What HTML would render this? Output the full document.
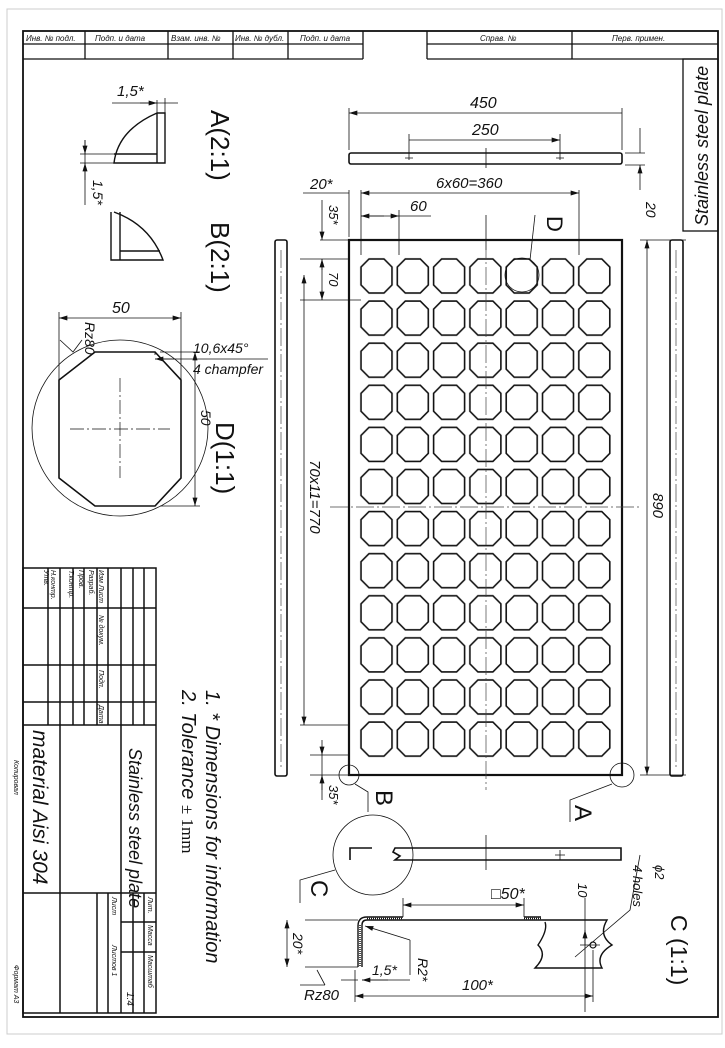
<!DOCTYPE html>
<html><head><meta charset="utf-8"><style>
html,body{margin:0;padding:0;background:#fff}
svg{display:block}
text{font-family:"Liberation Sans",sans-serif;font-style:italic;fill:#111}
</style></head><body>
<svg width="725" height="1048" viewBox="0 0 725 1048" xmlns="http://www.w3.org/2000/svg">
<defs>
<pattern id="oct" x="358.35" y="254.95" width="36.3" height="42.1" patternUnits="userSpaceOnUse">
<polygon points="10.65,4.05 25.65,4.05 33.65,12.05 33.65,30.05 25.65,38.05 10.65,38.05 2.65,30.05 2.65,12.05" fill="none" stroke="#111" stroke-width="1.6"/>
</pattern>
<marker id="ar" viewBox="0 0 10 6" refX="10" refY="3" markerWidth="9" markerHeight="5" orient="auto-start-reverse" markerUnits="userSpaceOnUse"><path d="M0,0 L10,3 L0,6z" fill="#111"/></marker>
</defs>
<rect x="7" y="9" width="715" height="1025" fill="none" stroke="#ccc" stroke-width="1"/>
<rect x="23" y="31" width="695" height="986" fill="none" stroke="#111" stroke-width="1.8"/>
<g stroke="#111" stroke-width="1.3" fill="none">
<path d="M23,44 H363 M23,59 H363 M363,31 V59 M85,31 V59 M168,31 V59 M233,31 V59 M288,31 V59"/>
<path d="M427,31 V59 M427,44 H718 M427,59 H718 M572,31 V59"/>
<rect x="683" y="59" width="35" height="172"/>
</g>
<g font-size="8">
<text x="26" y="41">Инв. № подл.</text><text x="95" y="41">Подп. и дата</text>
<text x="171" y="41">Взам. инв. №</text><text x="235" y="41">Инв. № дубл.</text>
<text x="300" y="41">Подп. и дата</text><text x="480" y="41">Справ. №</text><text x="612" y="41">Перв. примен.</text>
</g>
<text transform="translate(708,226) rotate(-90)" font-size="18">Stainless steel plate</text>

<g stroke="#111" fill="none">
<rect x="349" y="153" width="273" height="11" rx="2" stroke-width="1.6"/>
<path d="M349,150 V108 M622,150 V108 M409,160 V134 M560,160 V134" stroke-width="0.8"/>
<path d="M349,113 H622 M409,140 H560" stroke-width="0.8" marker-start="url(#ar)" marker-end="url(#ar)"/>
<path d="M486,148 V168 M405,158 H413 M556,158 H564" stroke-width="0.8"/>
<path d="M625,153 H645 M625,165 H645" stroke-width="0.8"/>
<path d="M640,128 V153 M640,190 V165" stroke-width="0.8" marker-end="url(#ar)"/>
</g>
<text x="470" y="108" font-size="16">450</text>
<text x="472" y="135" font-size="16">250</text>
<text transform="translate(646,202) rotate(90)" font-size="14">20</text>

<g stroke="#111" fill="none" stroke-width="0.8">
<path d="M349,237 V190 M361,255 V190 M399,255 V210 M579,255 V190 M486,215 V250"/>
<path d="M303,193 H349"/>
<path d="M361,193 H579" marker-start="url(#ar)" marker-end="url(#ar)"/>
<path d="M361,216 H384 M399,216 H431" />
<path d="M380,216 H361" marker-end="url(#ar)"/><path d="M380,216 H399" marker-end="url(#ar)"/>
<path d="M320,240 H349 M300,259 H349 M300,300 H361 M300,725 H349 M310,755 H349 M310,775 H349"/>
<path d="M322,200 V240" marker-end="url(#ar)"/>
<path d="M322,270 V259" marker-end="url(#ar)"/><path d="M322,290 V300" marker-end="url(#ar)"/>
<path d="M322,259 V300"/>
<path d="M304,275 V725" marker-start="url(#ar)" marker-end="url(#ar)"/>
<path d="M322,740 V755" marker-end="url(#ar)"/><path d="M322,790 V775" marker-end="url(#ar)"/>
<path d="M322,755 V800"/>
<path d="M686,240 H640 M686,775 H640"/>
<path d="M647,240 V775" marker-start="url(#ar)" marker-end="url(#ar)"/>
</g>
<text x="310" y="189" font-size="15">20*</text>
<text x="436" y="188" font-size="15">6x60=360</text>
<text x="410" y="211" font-size="15">60</text>
<text transform="translate(329,205) rotate(90)" font-size="13">35*</text>
<text transform="translate(329,272) rotate(90)" font-size="13">70</text>
<text transform="translate(310,460) rotate(90)" font-size="15">70x11=770</text>
<text transform="translate(653,493) rotate(90)" font-size="15">890</text>
<text transform="translate(329,785) rotate(90)" font-size="13">35*</text>

<rect x="275" y="240" width="12" height="536" rx="2" fill="none" stroke="#111" stroke-width="1.6"/>
<rect x="670" y="240" width="13" height="536" rx="2" fill="none" stroke="#111" stroke-width="1.6"/>
<rect x="349" y="240" width="273" height="535" fill="none" stroke="#111" stroke-width="2.2"/>
<rect x="358.35" y="254.95" width="254.1" height="505.2" fill="url(#oct)"/>
<g stroke="#444" stroke-width="0.7" stroke-dasharray="18,3,2,3" fill="none">
<path d="M486,215 V790 M330,507 H640 M281,250 V770 M676,250 V770"/>
</g>
<circle cx="522" cy="275" r="17" fill="none" stroke="#111" stroke-width="0.8"/>
<path d="M530,260 L535,215" stroke="#111" stroke-width="0.8"/>
<text transform="translate(547,216) rotate(90)" font-size="22" style="font-style:normal">D</text>
<circle cx="349" cy="775" r="10" fill="none" stroke="#111" stroke-width="0.8"/>
<circle cx="622" cy="775" r="12" fill="none" stroke="#111" stroke-width="0.8"/>
<path d="M355,784 L368,792 V812 M612,784 L570,800 V822" stroke="#111" stroke-width="0.8" fill="none"/>
<text transform="translate(376,790) rotate(90)" font-size="24" style="font-style:normal">B</text>
<text transform="translate(575,805) rotate(90)" font-size="24" style="font-style:normal">A</text>

<g stroke="#111" fill="none" stroke-width="1.6">
<path d="M372,848 H350 V860"/>
<path d="M395,848 H621 V860 H395 L400,856 L393,852 Z"/>
</g>
<circle cx="373" cy="855" r="40" fill="none" stroke="#111" stroke-width="0.8"/>
<path d="M486,835 V870 M555,855 H565 M560,850 V860" stroke="#111" stroke-width="0.8"/>
<path d="M335,870 L300,880 V903" stroke="#111" stroke-width="0.8" fill="none"/>
<text transform="translate(311,880) rotate(90)" font-size="24" style="font-style:normal">C</text>

<g stroke="#111" fill="none">
<path d="M362,967 V925 Q362,920 367,920 H607 Q598,935 612,945 Q595,955 602,968 H535 Q548,955 538,945 Q548,930 545,922" stroke-width="1.4"/>
<path d="M358,967 V926 Q358,917 367,917 H403 M524,917 H541" stroke-width="1.4"/>
<path d="M360,966 V925 M367,918.5 H403 M524,918.5 H541" stroke-width="1.5" stroke-dasharray="1,1"/>
<path d="M403,917 V898 M524,917 V898 M355,970 V1002 M593,950 V1002 M305,920 H358 M305,967 H358 M585,898 V1012 M580,945 H600 M580,968 H600" stroke-width="0.8"/>
<path d="M403,905 H524" stroke-width="0.8" marker-start="url(#ar)" marker-end="url(#ar)"/>
<path d="M355,996 H593" stroke-width="0.8" marker-start="url(#ar)" marker-end="url(#ar)"/>
<path d="M287,920 V967" stroke-width="0.8" marker-start="url(#ar)" marker-end="url(#ar)"/>
<path d="M341,980 H358 M388,980 H362" stroke-width="0.8" marker-end="url(#ar)"/>
<path d="M362,980 H410 M410,940 V975" stroke-width="0.8"/>
<path d="M410,940 L365,926" stroke-width="0.8" marker-end="url(#ar)"/>
<path d="M585,945 V930" stroke-width="0.8" marker-end="url(#ar)"/>
<circle cx="593" cy="945" r="3" stroke-width="1.2"/>
<path d="M575,957 L630,910 L640,855" stroke-width="0.8"/>
<path d="M317,970 L325,985 M325,985 L300,985" stroke-width="0.8"/>
</g>
<text x="491" y="899" font-size="16">□50*</text>
<text transform="translate(293,933) rotate(90)" font-size="14">20*</text>
<text transform="translate(418,958) rotate(90)" font-size="14">R2*</text>
<text x="372" y="975" font-size="14">1,5*</text>
<text x="462" y="990" font-size="15">100*</text>
<text x="304" y="1000" font-size="15">Rz80</text>
<text transform="translate(578,883) rotate(90)" font-size="13">10</text>
<text transform="translate(633,865) rotate(90)" font-size="13">4 holes</text>
<text transform="translate(655,865) rotate(90)" font-size="13">ϕ2</text>
<text transform="translate(671,915) rotate(90)" font-size="23" style="font-style:normal">C (1:1)</text>

<g stroke="#111" fill="none">
<path d="M157,113 H165 V163 H114 Q118,130 157,113 Z M157,113 V163 M114,154 H157" stroke-width="1.4"/>
<path d="M111,212 V260 H163 Q150,225 114,212 M120,212 V260 M120,251 H160" stroke-width="1.4"/>
<path d="M112,103 H178 M157,100 V113 M165,98 V113 M85,140 V205 M80,154 H114 M80,163 H114" stroke-width="0.8"/>
<path d="M140,103 H157" stroke-width="0.8" marker-end="url(#ar)"/>
<path d="M85,140 V154" stroke-width="0.8" marker-end="url(#ar)"/>
<path d="M85,180 V163" stroke-width="0.8" marker-end="url(#ar)"/>
<circle cx="120" cy="428" r="88" stroke-width="0.8"/>
<polygon points="95,352 155,352 181,380 181,478 155,506 95,506 59,478 59,380" stroke-width="1.6"/>
<path d="M59,380 V312 M181,380 V312 M155,352 V355 M155,359 H268 M160,352 H200 M160,506 H200" stroke-width="0.8"/>
<path d="M59,318 H181" stroke-width="0.8" marker-start="url(#ar)" marker-end="url(#ar)"/>
<path d="M195,352 V506" stroke-width="0.8" marker-start="url(#ar)" marker-end="url(#ar)"/>
<path d="M175,359 H155" stroke-width="0.8" marker-end="url(#ar)"/>
<path d="M60,340 L73,352 L82,340" stroke-width="0.8"/>
<path d="M120,378 V478 M70,429 H170" stroke-width="0.7" stroke-dasharray="14,3,2,3"/>
</g>
<text x="112" y="313" font-size="16">50</text>
<text transform="translate(85,322) rotate(90)" font-size="14">Rz80</text>
<text x="117" y="96" font-size="15">1,5*</text>
<text transform="translate(93,180) rotate(90)" font-size="14">1,5*</text>
<text x="193" y="353" font-size="14">10,6x45°</text>
<text x="193" y="374" font-size="14">4 champfer</text>
<text transform="translate(201,410) rotate(90)" font-size="14">50</text>
<text transform="translate(211,110) rotate(90)" font-size="26" style="font-style:normal">A(2:1)</text>
<text transform="translate(211,222) rotate(90)" font-size="26" style="font-style:normal">B(2:1)</text>
<text transform="translate(216,422) rotate(90)" font-size="26" style="font-style:normal">D(1:1)</text>

<text transform="translate(206,690) rotate(90)" font-size="20">1. * Dimensions for information</text>
<text transform="translate(182,690) rotate(90)" font-size="20">2. Tolerance <tspan style="font-style:normal;font-family:'Liberation Serif',serif" font-size="17">± 1mm</tspan></text>

<g stroke="#111" fill="none" stroke-width="1.5">
<rect x="23" y="568" width="133" height="445"/>
<path d="M23,608 H156 M23,665 H156 M23,702 H156 M23,725 H156"/>
<path d="M48,568 V725 M60,568 V1013 M73,568 V725 M84,568 V725 M97,568 V725 M108,568 V725 M121,568 V1013 M133,568 V725 M144,568 V725"/>
<path d="M23,893 H121 M97,893 V1013 M121,893 H156 M108,893 V1013 M121,922 H156 M121,952 H156 M133,893 V1013 M144,893 V1013"/>
</g>
<g font-size="7">
<text transform="translate(99,570) rotate(90)">Изм Лист</text>
<text transform="translate(99,615) rotate(90)">№ докум.</text>
<text transform="translate(99,670) rotate(90)">Подп.</text>
<text transform="translate(99,705) rotate(90)">Дата</text>
<text transform="translate(89,570) rotate(90)">Разраб.</text>
<text transform="translate(79,570) rotate(90)">Пров.</text>
<text transform="translate(69,570) rotate(90)">Т.контр.</text>
<text transform="translate(51,570) rotate(90)">Н.контр.</text>
<text transform="translate(44,570) rotate(90)">Утв.</text>
<text transform="translate(148,897) rotate(90)">Лит.</text>
<text transform="translate(148,925) rotate(90)">Масса</text>
<text transform="translate(148,955) rotate(90)">Масштаб</text>
<text transform="translate(112,897) rotate(90)">Лист</text>
<text transform="translate(112,945) rotate(90)">Листов 1</text>
<text transform="translate(14,760) rotate(90)">Копировал</text>
<text transform="translate(14,965) rotate(90)">Формат А3</text>
</g>
<text transform="translate(127,992) rotate(90)" font-size="10">1:4</text>
<text transform="translate(129,748) rotate(90)" font-size="18">Stainless steel plate</text>
<text transform="translate(33,730) rotate(90)" font-size="21">material Aisi 304</text>
</svg>
</body></html>
